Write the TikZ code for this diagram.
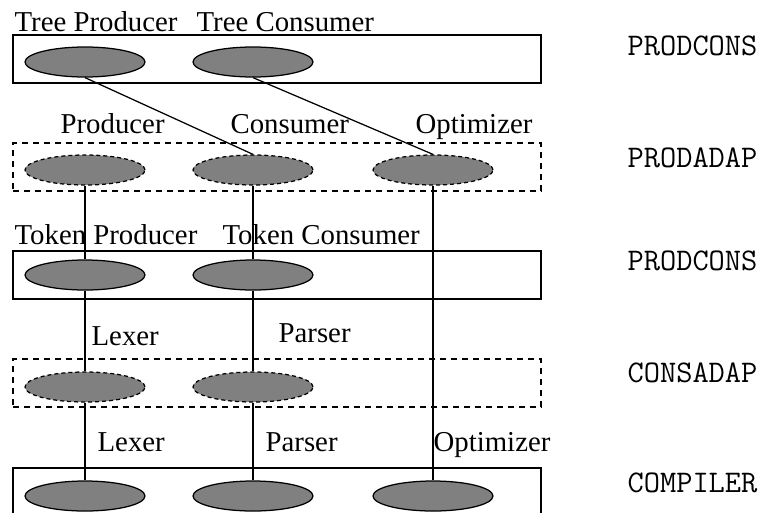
\documentclass[tikz,border=0pt]{standalone}
\usepackage{fontspec}
\setmainfont{Liberation Serif}
\usetikzlibrary{shapes.geometric}

\begin{document}
\begin{tikzpicture}[x=1pt,y=-1pt,line width=1.25pt,
	every node/.style={font=\fontsize{28.8}{30}\selectfont},
	layer/.style={draw,rectangle,minimum width=528pt,minimum height=48pt,inner sep=0pt},
	adapter/.style={layer,dash pattern=on 6pt off 5pt},
	comp/.style={draw,ellipse,fill=black!50,minimum width=120pt,minimum height=30pt,inner sep=0pt},
	compad/.style={comp,dash pattern=on 4pt off 3pt},
	lbl/.style={anchor=base west,inner sep=0pt},
	tag/.style={lbl,font=\ttfamily\fontsize{31.5}{33}\selectfont}]

\useasboundingbox (0,0) rectangle (770,512);

%Schichten
\node[layer]	(L1)	at (277,59)	{};
\node[adapter]	(L2)	at (277,167)	{};
\node[layer]	(L3)	at (277,275)	{};
\node[adapter]	(L4)	at (277,383)	{};
\node[layer]	(L5)	at (277,492)	{};

%Komponenten
\node[comp]		(T1)	at (85,62)		{};
\node[comp]		(T2)	at (253,62)		{};
\node[compad]	(P1)	at (85,170)		{};
\node[compad]	(P2)	at (253,170)	{};
\node[compad]	(P3)	at (433,170)	{};
\node[comp]		(K1)	at (85,275)		{};
\node[comp]		(K2)	at (253,275)	{};
\node[compad]	(A1)	at (85,387)		{};
\node[compad]	(A2)	at (253,387)	{};
\node[comp]		(C1)	at (85,496)		{};
\node[comp]		(C2)	at (253,496)	{};
\node[comp]		(C3)	at (433,496)	{};

%Verbindungen
\path	(T1.south)	edge	(P2.north)
		(T2.south)	edge	(P3.north)
		(P1)	edge	(K1)
		(K1)	edge	(A1)
		(A1)	edge	(C1)
		(P2)	edge	(K2)
		(K2)	edge	(A2)
		(A2)	edge	(C2)
		(P3)	edge	(C3);

%Beschriftungen
\node[lbl]	(tT1)	at (14,31)		{Tree Producer};
\node[lbl]	(tT2)	at (196,31)		{Tree Consumer};
\node[lbl]	(tP1)	at (60,133)		{Producer};
\node[lbl]	(tP2)	at (230,133)	{Consumer};
\node[lbl]	(tP3)	at (415,133)	{Optimizer};
\node[lbl]	(tK1)	at (14,244)		{Token Producer};
\node[lbl]	(tK2)	at (222,244)	{Token Consumer};
\node[lbl]	(tA1)	at (91,345)		{Lexer};
\node[lbl]	(tA2)	at (278,342)	{Parser};
\node[lbl]	(tC1)	at (97,451)		{Lexer};
\node[lbl]	(tC2)	at (265,451)	{Parser};
\node[lbl]	(tC3)	at (433,451)	{Optimizer};

%Typen
\node[tag]	(y1)	at (627,55)		{PRODCONS};
\node[tag]	(y2)	at (627,167)	{PRODADAP};
\node[tag]	(y3)	at (627,270)	{PRODCONS};
\node[tag]	(y4)	at (627,382)	{CONSADAP};
\node[tag]	(y5)	at (627,492)	{COMPILER};

\end{tikzpicture}
\end{document}
